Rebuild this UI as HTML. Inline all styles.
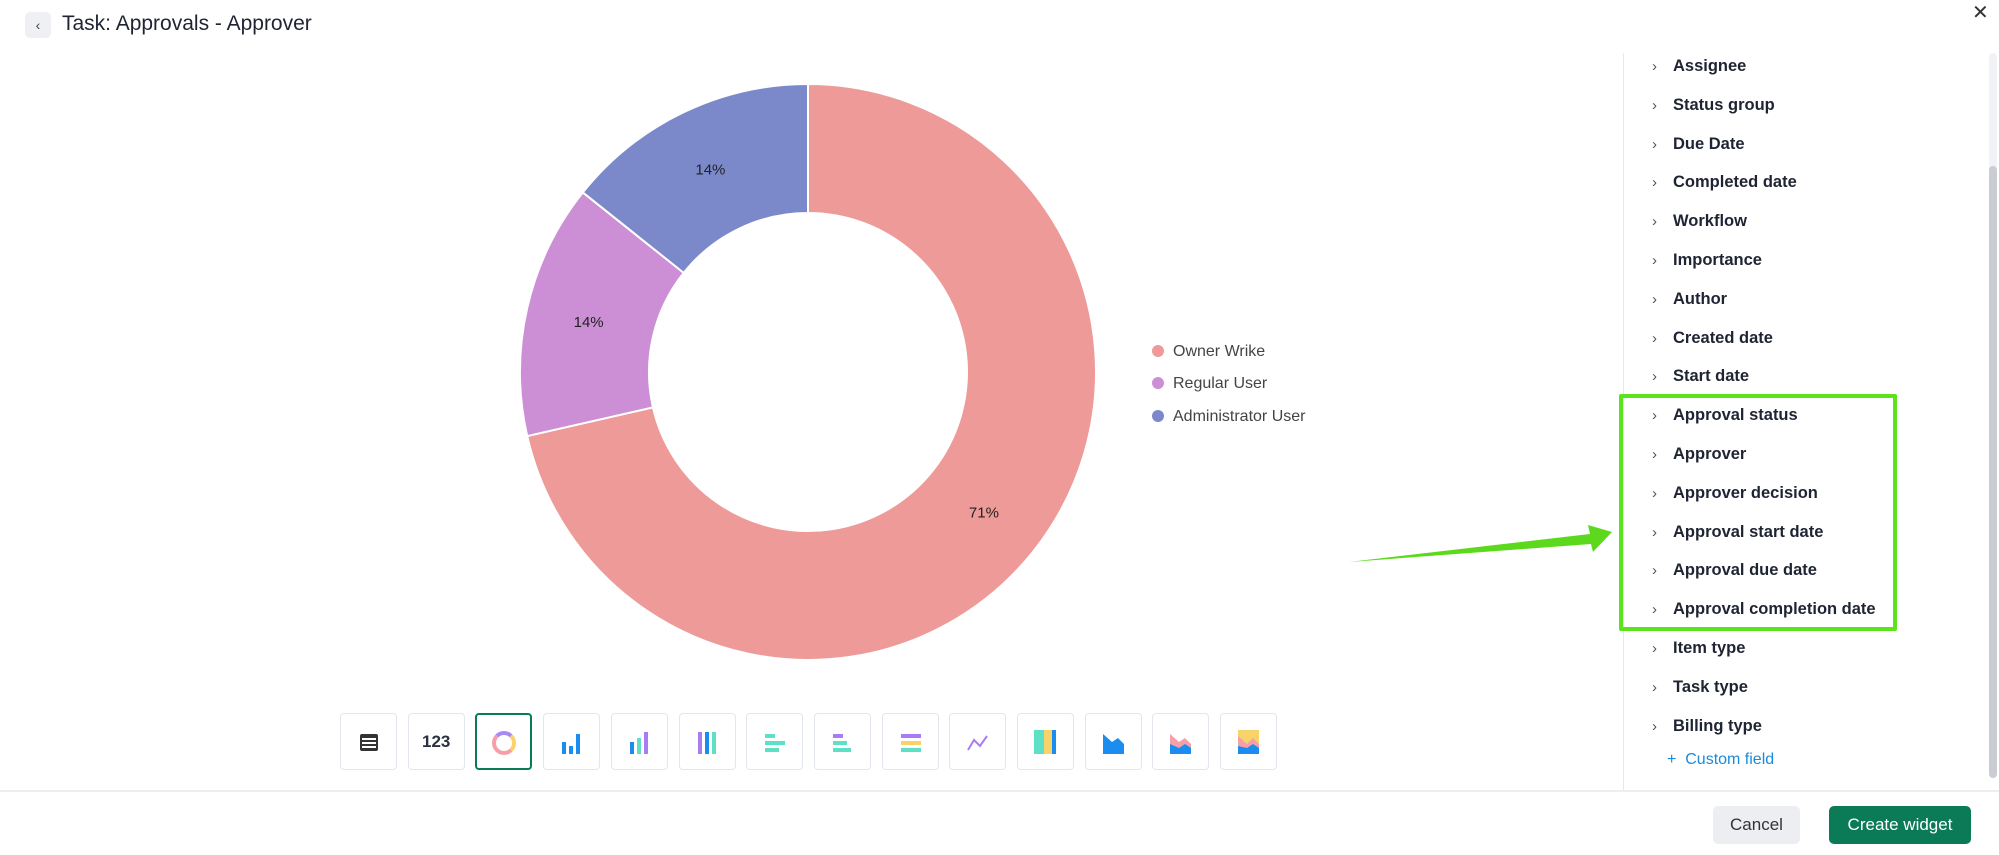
<!DOCTYPE html>
<html><head><meta charset="utf-8"><style>
body{margin:0;width:1999px;height:855px;background:#fff;position:relative;overflow:hidden;font-family:"Liberation Sans",sans-serif;color:#1f2433}
.abs{position:absolute}
.row{position:absolute;left:1652px;font-size:16.5px;font-weight:600;color:#1f2433;height:24px;line-height:24px}
.row .ch{display:inline-block;width:21px;color:#555;font-weight:400;font-size:15px}
.tb{position:absolute;top:713px;width:55px;height:55px;border:1px solid #e4e6ee;border-radius:4px;background:#fff}
.leg{position:absolute;left:1152px;font-size:16px;color:#444;height:20px;line-height:20px}
.leg i{display:inline-block;width:12px;height:12px;border-radius:50%;margin-right:9px;vertical-align:-1px}
</style></head><body>
<div class="abs" style="left:25px;top:12px;width:26px;height:26px;background:#eef0f4;border-radius:5px;text-align:center;line-height:26px;font-size:14px;color:#444">‹</div>
<div class="abs" style="left:62px;top:12px;font-size:21px;color:#1f2433">Task: Approvals - Approver</div>
<div class="abs" style="left:1972px;top:0px;font-size:20px;color:#333">✕</div>

<svg class="abs" style="left:0;top:0" width="1300" height="700" id="chart"></svg>

<div class="leg" style="top:342px"><i style="background:#ed9a98"></i>Owner Wrike</div>
<div class="leg" style="top:374px"><i style="background:#cc8fd6"></i>Regular User</div>
<div class="leg" style="top:407px"><i style="background:#7b89cb"></i>Administrator User</div>

<div class="abs" style="left:1623px;top:53px;width:1px;height:737px;background:#e6e8ee"></div>
<div class="abs" style="left:1989px;top:53px;width:8px;height:725px;background:#f1f2f5;border-radius:4px"></div>
<div class="abs" style="left:1989px;top:166px;width:8px;height:612px;background:#c9ccd3;border-radius:4px"></div>
<div id="fields"></div>
<div class="abs" style="left:1667px;top:751px;font-size:16px;color:#1a8bd8">+ &nbsp;Custom field</div>

<div class="abs" style="left:1619px;top:394px;width:270px;height:229px;border:4px solid #5ce31a;border-radius:2px"></div>
<svg class="abs" style="left:1340px;top:515px" width="290" height="60">
<polygon points="9,47 250,19 248,10 272,17 253,37 251,29" fill="#5cd91c"/>
</svg>

<div class="abs" style="left:0;top:790px;width:1999px;height:2px;background:#eceef2"></div>
<div class="abs" style="left:1713px;top:806px;width:87px;height:38px;background:#eceef2;border-radius:5px;text-align:center;line-height:38px;font-size:17px;color:#333">Cancel</div>
<div class="abs" style="left:1829px;top:806px;width:142px;height:38px;background:#0b7a57;border-radius:5px;text-align:center;line-height:38px;font-size:17px;color:#fff">Create widget</div>

<script>
const categories=["Owner Wrike","Regular User","Administrator User"];
const values=[5,1,1];
const colors=["#ed9a98","#cc8fd6","#7b89cb"];
const labels=["71%","14%","14%"];
const NS="http://www.w3.org/2000/svg";
const svg=document.getElementById('chart');
const cx=808,cy=372,R=288,r=159,lr=225;
const total=values.reduce((a,b)=>a+b,0);
function pt(rad,a){return [cx+rad*Math.sin(a),cy-rad*Math.cos(a)];}
let a0=0;
values.forEach((v,i)=>{
 const a1=a0+v/total*2*Math.PI;
 const large=(a1-a0)>Math.PI?1:0;
 const [x1,y1]=pt(R,a0),[x2,y2]=pt(R,a1),[x3,y3]=pt(r,a1),[x4,y4]=pt(r,a0);
 const p=document.createElementNS(NS,'path');
 p.setAttribute('d',`M${x1},${y1}A${R},${R} 0 ${large} 1 ${x2},${y2}L${x3},${y3}A${r},${r} 0 ${large} 0 ${x4},${y4}Z`);
 p.setAttribute('fill',colors[i]);p.setAttribute('stroke','#fff');p.setAttribute('stroke-width','2');
 
 
 svg.appendChild(p);
 const [lx,ly]=pt(lr,(a0+a1)/2);
 const t=document.createElementNS(NS,'text');
 t.setAttribute('x',lx);t.setAttribute('y',ly+5);t.setAttribute('text-anchor','middle');
 t.setAttribute('font-size','15');t.setAttribute('fill','#222');t.setAttribute('font-family','Liberation Sans, sans-serif');
 t.textContent=labels[i];
 
 
 svg.appendChild(t);
 a0=a1;
});
const fields=["Assignee","Status group","Due Date","Completed date","Workflow","Importance","Author","Created date","Start date","Approval status","Approver","Approver decision","Approval start date","Approval due date","Approval completion date","Item type","Task type","Billing type"];
const fc=document.getElementById('fields');
fields.forEach((f,i)=>{
 const d=document.createElement('div');d.className='row';d.style.top=(54+i*38.8)+'px';
 d.innerHTML='<span class="ch">›</span>'+f;
 
 
 fc.appendChild(d);
});
const icons=['<div style="margin:20px auto;width:14px;height:13px;border:2px solid #333;border-radius:2px;background:repeating-linear-gradient(#333 0 2px,#fff 2px 4px)"></div>',
'<div style="text-align:center;line-height:55px;font-weight:700;font-size:17px;color:#2a3140">123</div>',
'<div style="margin:16px auto;width:16px;height:16px;border-radius:50%;border:4px solid #f5a0a8;border-top-color:#a98af4;border-right-color:#f8d36a"></div>',
'<svg width="55" height="55"><rect x="18" y="28" width="4" height="12" fill="#1b8cf0"/><rect x="25" y="32" width="4" height="8" fill="#1b8cf0"/><rect x="32" y="20" width="4" height="20" fill="#1b8cf0"/></svg>',
'<svg width="55" height="55"><rect x="18" y="28" width="4" height="12" fill="#1b8cf0"/><rect x="25" y="24" width="4" height="16" fill="#5de0c6"/><rect x="32" y="18" width="4" height="22" fill="#a87df3"/></svg>',
'<svg width="55" height="55"><rect x="18" y="18" width="4" height="22" fill="#a87df3"/><rect x="25" y="18" width="4" height="22" fill="#1b8cf0"/><rect x="32" y="18" width="4" height="22" fill="#5de0c6"/></svg>',
'<svg width="55" height="55"><rect x="18" y="20" width="10" height="4" fill="#5de0c6"/><rect x="18" y="27" width="20" height="4" fill="#5de0c6"/><rect x="18" y="34" width="14" height="4" fill="#5de0c6"/></svg>',
'<svg width="55" height="55"><rect x="18" y="20" width="10" height="4" fill="#a87df3"/><rect x="18" y="27" width="14" height="4" fill="#5de0c6"/><rect x="18" y="34" width="18" height="4" fill="#5de0c6"/></svg>',
'<svg width="55" height="55"><rect x="18" y="20" width="20" height="4" fill="#a87df3"/><rect x="18" y="27" width="20" height="4" fill="#f8d36a"/><rect x="18" y="34" width="20" height="4" fill="#5de0c6"/></svg>',
'<svg width="55" height="55"><polyline points="18,36 24,26 30,32 37,22" fill="none" stroke="#a87df3" stroke-width="2"/></svg>',
'<svg width="55" height="55"><rect x="16" y="16" width="10" height="24" fill="#5de0c6"/><rect x="26" y="16" width="8" height="24" fill="#f8d36a"/><rect x="34" y="16" width="4" height="24" fill="#1b8cf0"/></svg>',
'<svg width="55" height="55"><polygon points="17,20 26,28 32,24 38,30 38,40 17,40" fill="#1b8cf0"/></svg>',
'<svg width="55" height="55"><polygon points="17,20 26,28 32,24 38,30 38,40 17,40" fill="#f5a0a8"/><polygon points="17,30 26,34 32,30 38,34 38,40 17,40" fill="#1b8cf0"/></svg>',
'<svg width="55" height="55"><rect x="17" y="16" width="21" height="24" fill="#f8d36a"/><polygon points="17,22 26,30 32,24 38,30 38,40 17,40" fill="#f5a0a8"/><polygon points="17,32 26,34 32,30 38,34 38,40 17,40" fill="#1b8cf0"/></svg>'];
icons.forEach((ic,i)=>{
 const b=document.createElement('div');b.className='tb';b.style.left=(340+i*67.7)+'px';
 if(i==2){b.style.border='2px solid #0b7a57';b.style.width='53px';b.style.height='53px';}
 b.innerHTML=ic;
 
 
 document.body.appendChild(b);
});
</script>
</body></html>
